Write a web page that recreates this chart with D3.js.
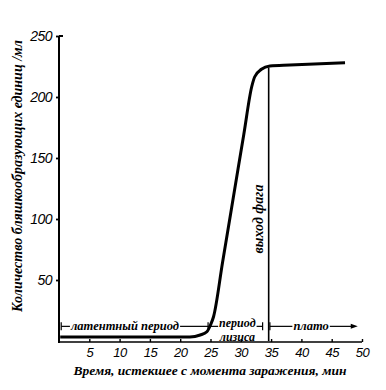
<!DOCTYPE html>
<html><head><meta charset="utf-8">
<script src="https://cdn.jsdelivr.net/npm/d3@7"></script>
<style>body{margin:0;background:#fff}svg{display:block}</style>
</head><body>
<svg id="c" width="386" height="390"></svg>
<script>
// data
const timeMin = [0.2, 10, 21.6, 23.3, 24.4, 25.0, 25.5, 27.0, 28.5, 30.5, 31.8, 32.3, 33.4, 34.8, 38.1, 47.2];
const pfuPerMl = [3.3, 3.3, 3.3, 4.9, 7.6, 13.1, 19.9, 64.8, 109.7, 169.5, 208.4, 216.6, 222.7, 225.4, 226.2, 228.1];
const xTicks = [5, 10, 15, 20, 25, 30, 35, 40, 45, 50];
const yTicks = [50, 100, 150, 200, 250];
const releaseTime = 34.6;
const releaseTop = 224;
const periodNames = ["латентный период", "период", "лизиса", "плато"];
const periodStart = [0.2, 24.6, 34.8];
const periodEnd = [24.6, 33.6, 49.3];
const xTitle = "Время, истекшее с момента заражения, мин";
const yTitle = "Количество бляшкообразующих единиц /мл";
const releaseLabel = "выход фага";

const svg = d3.select("#c");
const x = d3.scaleLinear().domain([0, 50]).range([59, 362]);
const y = d3.scaleLinear().domain([0, 250]).range([341, 36]);
const serif = "'Liberation Serif','DejaVu Serif',serif";
const sans = "'Liberation Sans','DejaVu Sans',sans-serif";

// y axis
const ya = svg.append("g").attr("transform", `translate(${x(0)},0)`)
  .call(d3.axisLeft(y).tickValues(yTicks).tickSize(3).tickPadding(4));
ya.select(".domain").attr("stroke-width", 2).attr("d", `M0,${y(250)}V${y(0)+2}M0,${y(250)}h4`);
ya.selectAll(".tick line").attr("stroke-width", 1.8);
ya.selectAll("text").attr("font-family", sans).attr("font-style", "italic")
  .attr("font-size", 14).attr("fill", "#000").attr("letter-spacing", -0.5);

// x axis
const xa = svg.append("g").attr("transform", `translate(0,${y(0)+1})`)
  .call(d3.axisBottom(x).tickValues(xTicks).tickSize(-3).tickPadding(6));
xa.select(".domain").attr("stroke-width", 1.6).attr("d", `M${x(0)},0H${x(50)}`);
xa.selectAll(".tick line").attr("stroke-width", 1.4);
xa.selectAll("text").attr("font-family", sans).attr("font-style", "italic")
  .attr("font-size", 13).attr("fill", "#000").attr("letter-spacing", -0.5);

// curve
const pts = timeMin.map((t, i) => [t, pfuPerMl[i]]);
svg.append("path").datum(pts)
  .attr("fill", "none").attr("stroke", "#000").attr("stroke-width", 3)
  .attr("d", d3.line().x(d => x(d[0])).y(d => y(d[1])).curve(d3.curveMonotoneX));

// release line
svg.append("line").attr("x1", x(releaseTime)).attr("x2", x(releaseTime))
  .attr("y1", y(releaseTop)).attr("y2", y(0)).attr("stroke", "#000").attr("stroke-width", 1.6);
svg.append("text").attr("transform", `translate(${x(releaseTime) - 6},${y(100)}) rotate(-90)`)
  .attr("text-anchor", "middle").attr("font-family", serif).attr("font-style", "italic")
  .attr("font-weight", "bold").attr("font-size", 14).text(releaseLabel);

// periods
const ay = y(12);
const g = svg.append("g").attr("stroke", "#000").attr("stroke-width", 1.2);
function bar(xx) { g.append("line").attr("x1", xx).attr("x2", xx).attr("y1", ay - 4).attr("y2", ay + 4); }
function seg(a, b) { g.append("line").attr("x1", a).attr("x2", b).attr("y1", ay).attr("y2", ay); }
const txt = (s, xx, yy, fs) => svg.append("text").attr("x", xx).attr("y", yy).attr("text-anchor", "middle")
  .attr("font-family", serif).attr("font-style", "italic").attr("font-weight", "bold")
  .attr("font-size", fs || 12.5).text(s);

// latent
{
  const a = x(periodStart[0]) + 1, b = x(periodEnd[0]);
  const t = txt(periodNames[0], 125, ay + 3.5);
  const w = t.node().getComputedTextLength();
  bar(a); seg(a, 125 - w / 2 - 1); seg(125 + w / 2 + 1, b); bar(b);
}
// lysis
{
  const a = x(periodStart[1]), b = x(periodEnd[1]);
  const cx = (a + b) / 2 + 2;
  const t = txt(periodNames[1], cx, ay + 0.5, 12);
  txt(periodNames[2], cx, ay + 14.5, 12);
  const w = t.node().getComputedTextLength();
  seg(a, cx - w / 2 - 1); seg(cx + w / 2 + 1, b); bar(b);
}
// plateau
{
  const a = x(periodStart[2]), b = x(periodEnd[2]);
  const cx = x(41.6);
  const t = txt(periodNames[3], cx, ay + 3.5);
  const w = t.node().getComputedTextLength();
  bar(a); seg(a, cx - w / 2 - 1); seg(cx + w / 2 + 1, b - 5);
  svg.append("path").attr("d", `M${b},${ay}l-7,-2.5v5z`).attr("fill", "#000");
}

// titles
svg.append("text").attr("x", 210).attr("y", 375).attr("text-anchor", "middle")
  .attr("font-family", serif).attr("font-style", "italic").attr("font-weight", "bold")
  .attr("font-size", 13.5).text(xTitle);
svg.append("text").attr("transform", `translate(22,176) rotate(-90)`).attr("text-anchor", "middle")
  .attr("font-family", serif).attr("font-style", "italic").attr("font-weight", "bold")
  .attr("font-size", 14).text(yTitle);
</script>
</body></html>
